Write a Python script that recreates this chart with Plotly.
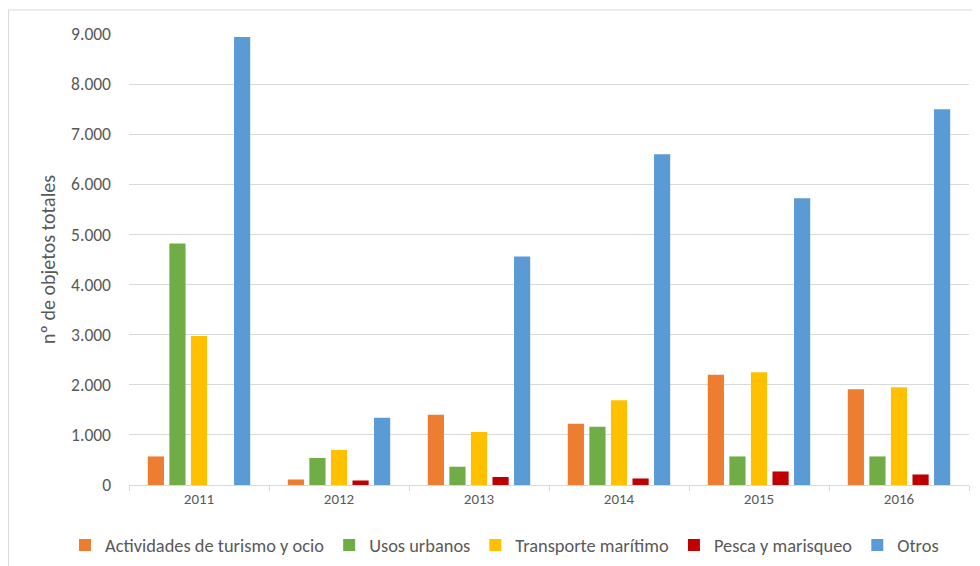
import plotly.graph_objects as go

years = ["2011", "2012", "2013", "2014", "2015", "2016"]
series_names = ["Actividades de turismo y ocio", "Usos urbanos", "Transporte marítimo",
                "Pesca y marisqueo", "Otros"]
turismo = [570, 110, 1400, 1220, 2200, 1910]
urbanos = [4820, 540, 365, 1160, 570, 570]
transporte = [2975, 700, 1060, 1690, 2250, 1950]
pesca = [0, 90, 160, 130, 270, 210]
otros = [8940, 1340, 4560, 6600, 5720, 7500]
colors = ["#ED7D31", "#70AD47", "#FFC000", "#C00000", "#5B9BD5"]
y_ticks = [0, 1000, 2000, 3000, 4000, 5000, 6000, 7000, 8000, 9000]

FONT = "Carlito, Calibri, Lato, sans-serif"
GRAY = "#595959"

fig = go.Figure()
for name, vals, col in zip(series_names, [turismo, urbanos, transporte, pesca, otros], colors):
    fig.add_trace(go.Bar(x=years, y=vals, name=name, marker=dict(color=col, line=dict(width=0))))

# page body has an 8px offset; figure sized so that it fits the 980x566 window
OFF = 8
W, H = 980 - OFF, 566 - OFF
L, R, T, B = 129 - OFF, 11, 34 - OFF, 81
pw, ph = W - L - R, H - T - B

def px(x):
    return (x - OFF - L) / pw

def py(y):
    return (H - B - (y - OFF)) / ph

fig.update_layout(
    width=W, height=H,
    margin=dict(l=L, r=R, t=T, b=B, autoexpand=False),
    paper_bgcolor="white", plot_bgcolor="white",
    barmode="group", bargap=0.23, bargroupgap=0.25,
    separators=",.",
    font=dict(family=FONT, color=GRAY),
    showlegend=True,
    legend=dict(orientation="h", xref="paper", yref="paper",
                x=px(65), xanchor="left", y=py(545), yanchor="middle",
                font=dict(size=18.4, color=GRAY), itemwidth=30, traceorder="normal"),
    xaxis=dict(type="category", showgrid=False, showline=True, linecolor="#D9D9D9", linewidth=1,
               ticks="outside", tickson="boundaries", ticklen=5, tickcolor="#D9D9D9",
               tickfont=dict(size=15, color=GRAY), automargin=False),
    yaxis=dict(range=[0, 9000], tickvals=y_ticks, tickformat=",d", showgrid=True,
               gridcolor="#D9D9D9", gridwidth=1, zeroline=False, showline=False,
               tickfont=dict(size=17.5, color=GRAY), ticklabelstandoff=17,
               title=dict(text="nº de objetos totales", font=dict(size=20, color=GRAY), standoff=10),
               automargin=False),
    shapes=[dict(type="rect", xref="paper", yref="paper",
                 x0=px(8.5), x1=px(1000), y0=py(600), y1=py(10),
                 line=dict(color="#D9D9D9", width=1), fillcolor="rgba(0,0,0,0)", layer="below")],
)

fig.write_html("out.html")
